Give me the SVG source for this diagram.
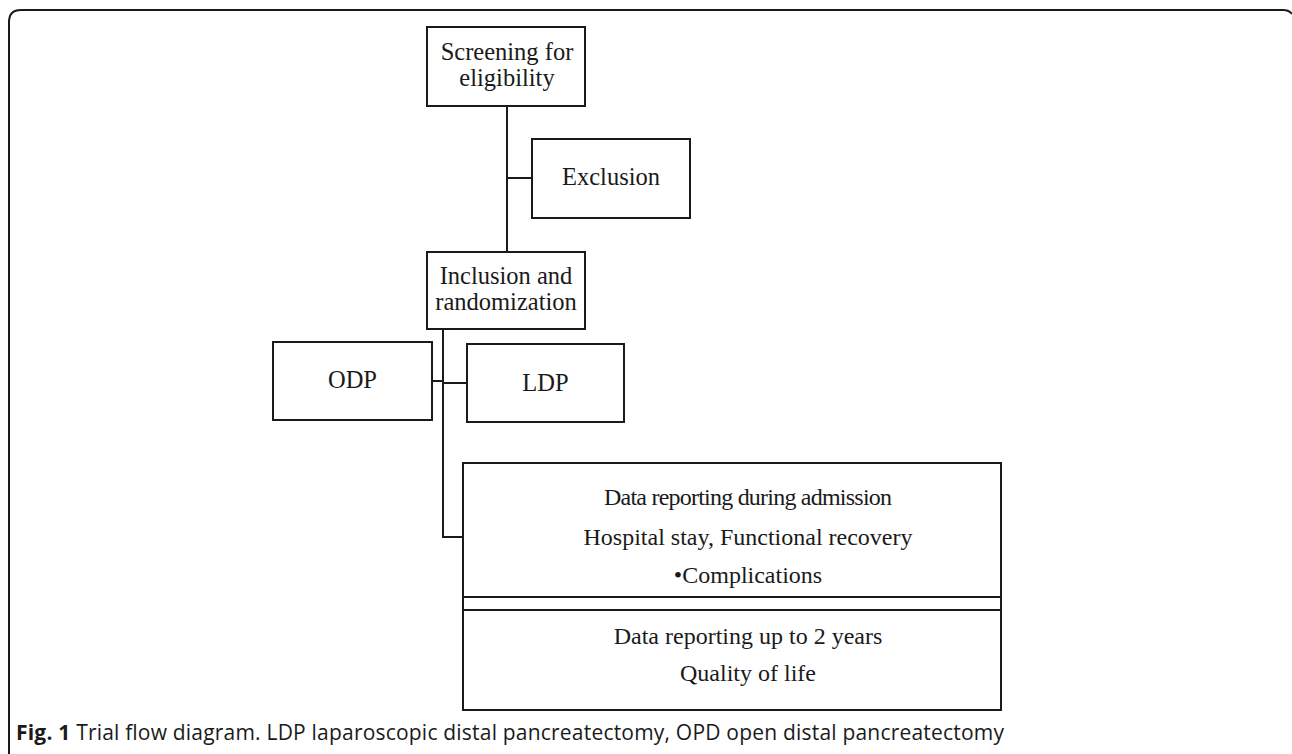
<svg xmlns="http://www.w3.org/2000/svg" width="1292" height="754" viewBox="0 0 1292 754">
<style>
.box{fill:#fff;stroke:#1a1a1a;stroke-width:2}
.ln{fill:none;stroke:#1a1a1a;stroke-width:2}
.t{font-family:"Liberation Serif","Times New Roman",serif;font-size:24.5px;fill:#1a1a1a;text-anchor:middle}
.d{font-family:"Liberation Serif","Times New Roman",serif;font-size:24px;fill:#1a1a1a;text-anchor:middle}
.cap{font-family:"Open Sans","Noto Sans",sans-serif;font-size:21px;fill:#1a1a1a}
</style>
<rect width="1292" height="754" fill="#fff"/>
<path d="M9,754 V22 Q9,10 21,10 H1283 Q1289,10 1292,14" fill="none" stroke="#1a1a1a" stroke-width="2"/>
<g id="connectors">
<path class="ln" d="M507,106 V252"/>
<path class="ln" d="M507,178 H532"/>
<path class="ln" d="M443,329 V537 H463"/>
<path class="ln" d="M432,381 H443"/>
<path class="ln" d="M443,383 H467"/>
</g>
<g id="screening">
<rect class="box" x="427" y="27" width="158" height="79"/>
<text class="t" x="507" y="60">Screening for</text>
<text class="t" x="507" y="86">eligibility</text>
</g>
<g id="exclusion">
<rect class="box" x="532" y="139" width="158" height="79"/>
<text class="t" x="611" y="185">Exclusion</text>
</g>
<g id="inclusion">
<rect class="box" x="427" y="252" width="158" height="77"/>
<text class="t" x="506" y="284">Inclusion and</text>
<text class="t" x="506" y="310">randomization</text>
</g>
<g id="odp">
<rect class="box" x="273" y="342" width="159" height="78"/>
<text class="t" x="352.5" y="388">ODP</text>
</g>
<g id="ldp">
<rect class="box" x="467" y="344" width="157" height="78"/>
<text class="t" x="545.5" y="391">LDP</text>
</g>
<g id="admission">
<rect class="box" x="463" y="463" width="538" height="134"/>
<text class="d" x="748" y="505" textLength="288" lengthAdjust="spacing">Data reporting during admission</text>
<text class="d" x="748" y="545">Hospital stay, Functional recovery</text>
<text class="d" x="748" y="583">•Complications</text>
</g>
<g id="band">
<rect class="box" x="463" y="597" width="538" height="13"/>
</g>
<g id="followup">
<rect class="box" x="463" y="610" width="538" height="100"/>
<text class="d" x="748" y="644">Data reporting up to 2 years</text>
<text class="d" x="748" y="681">Quality of life</text>
</g>
<text class="cap" x="16" y="740" textLength="988" lengthAdjust="spacing"><tspan font-weight="bold">Fig. 1</tspan> Trial flow diagram. LDP laparoscopic distal pancreatectomy, OPD open distal pancreatectomy</text>
</svg>
